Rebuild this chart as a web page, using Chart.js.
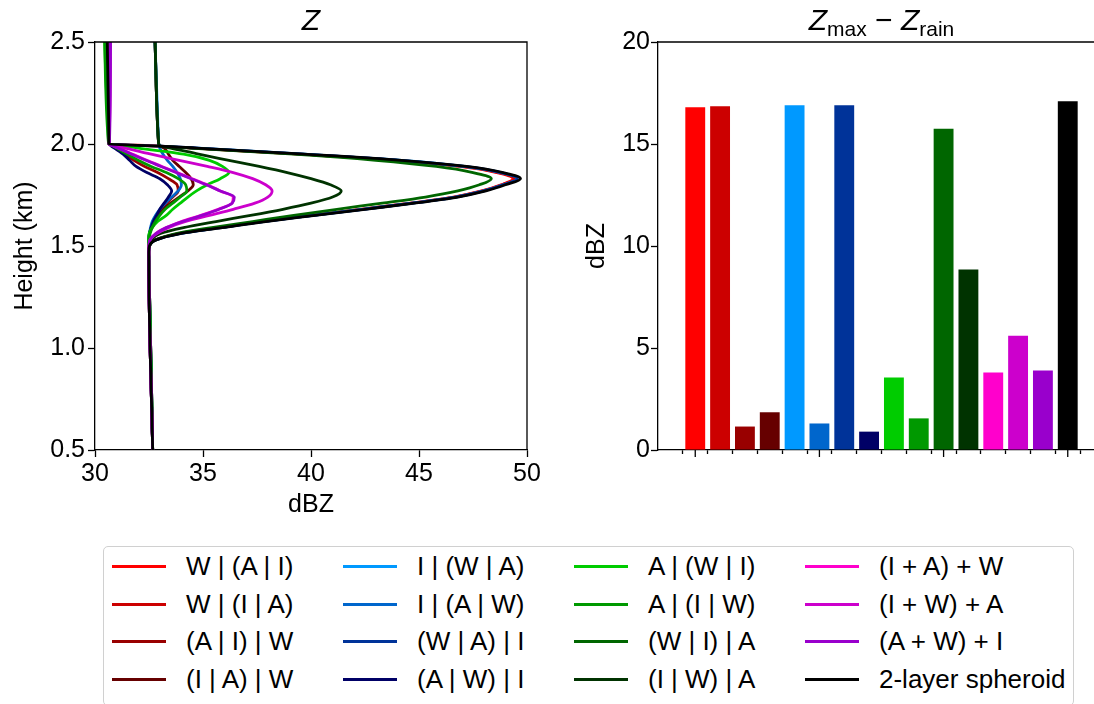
<!DOCTYPE html>
<html>
<head>
<meta charset="utf-8">
<script src="https://cdn.jsdelivr.net/npm/chart.js@4.4.0/dist/chart.umd.min.js"></script>
<style>
    body { margin: 0; width: 1094px; height: 704px; overflow: hidden; background: #fff; position: relative;
           font-family: "Liberation Sans", Arial, sans-serif; color: #000; }
    #profileBox { position: absolute; left: 0; top: 0; width: 560px; height: 520px; }
    #diffBox { position: absolute; left: 570px; top: 0; width: 540px; height: 520px; }
    .title { position: absolute; top: 2px; height: 36px; line-height: 36px; text-align: center; font-size: 30px; }
    .title i { font-style: italic; }
    .title sub { font-size: 21px; vertical-align: -6px; line-height: 0; }
    #legend { position: absolute; left: 103px; top: 546px; width: 971px; height: 160px;
              border: 1px solid #d0d0d0; border-radius: 5px; box-sizing: border-box; }
    .item { position: absolute; height: 30px; display: flex; align-items: center; font-size: 26px; white-space: nowrap; }
    .handle { width: 54px; height: 3px; margin-right: 20px; }
</style>
</head>
<body>
<div id="profileBox"><canvas id="profile" width="560" height="520"></canvas></div>
<div id="diffBox"><canvas id="diff" width="540" height="520"></canvas></div>
<div class="title" style="left:95px;width:432px;"><i>Z</i></div>
<div class="title" style="left:658px;width:447px;"><i>Z</i><sub>max</sub> &minus; <i>Z</i><sub>rain</sub></div>
<div id="legend"></div>
<script>
// heights (km) shared by all profiles
const heights = [2.5, 2.01, 2.0, 1.99, 1.98, 1.95, 1.92, 1.89, 1.86, 1.83, 1.80, 1.77,
                 1.74, 1.71, 1.68, 1.65, 1.62, 1.59, 1.56, 1.53, 1.50, 1.47, 1.44, 0.5];

const seriesNames = ['W | (A | I)', 'W | (I | A)', '(A | I) | W', '(I | A) | W',
                     'I | (W | A)', 'I | (A | W)', '(W | A) | I', '(A | W) | I',
                     'A | (W | I)', 'A | (I | W)', '(W | I) | A', '(I | W) | A',
                     '(I + A) + W', '(I + W) + A', '(A + W) + I', '2-layer spheroid'];
const seriesColors = ['#ff0000', '#cc0000', '#990000', '#660000',
                      '#0099ff', '#0066cc', '#003399', '#000066',
                      '#00cc00', '#009900', '#006600', '#003300',
                      '#ff00cc', '#cc00cc', '#9900cc', '#000000'];

// Z profiles (dBZ) at the heights above
const zWAI = [30.55, 30.64, 30.65, 33.0, 34.6, 39.5, 44.0, 46.9, 48.6, 49.35, 48.8, 47.9, 46.6, 44.6, 42.3, 40.0, 37.7, 35.7, 33.8, 32.8, 32.52, 32.49, 32.49, 32.67];
const zWIA = [32.78, 32.94, 32.95, 33.0, 34.6, 39.5, 44.0, 47.0, 48.7, 49.45, 48.85, 47.95, 46.65, 44.65, 42.35, 40.05, 37.75, 35.75, 33.8, 32.8, 32.52, 32.49, 32.49, 32.67];
const zAIW = [30.55, 30.64, 30.65, 30.8, 30.95, 31.4, 31.8, 32.3, 32.9, 33.4, 33.8, 33.85, 33.6, 33.3, 33.05, 32.85, 32.7, 32.6, 32.52, 32.49, 32.48, 32.48, 32.49, 32.67];
const zIAW = [32.78, 32.94, 32.95, 33.0, 33.2, 33.4, 33.6, 33.9, 34.2, 34.45, 34.55, 34.3, 33.9, 33.5, 33.15, 32.9, 32.72, 32.6, 32.52, 32.49, 32.48, 32.48, 32.49, 32.67];
const zIWA = [32.78, 32.94, 32.95, 33.05, 34.8, 39.7, 44.2, 47.1, 48.8, 49.55, 48.9, 48.0, 46.7, 44.7, 42.4, 40.1, 37.8, 35.8, 33.85, 32.82, 32.52, 32.49, 32.49, 32.67];
const zIAW2 = [32.78, 32.94, 32.95, 32.97, 33.0, 33.15, 33.35, 33.6, 33.8, 33.95, 34.0, 33.85, 33.55, 33.25, 33.0, 32.8, 32.65, 32.57, 32.52, 32.49, 32.48, 32.48, 32.49, 32.67];
const zWAI2 = [30.55, 30.64, 30.65, 33.0, 34.7, 39.6, 44.1, 47.1, 48.8, 49.55, 48.9, 48.0, 46.7, 44.7, 42.4, 40.1, 37.8, 35.8, 33.85, 32.82, 32.52, 32.49, 32.49, 32.67];
const zAWI = [30.55, 30.64, 30.65, 30.75, 30.9, 31.3, 31.6, 31.9, 32.4, 33.0, 33.35, 33.55, 33.4, 33.2, 33.0, 32.85, 32.7, 32.6, 32.52, 32.49, 32.48, 32.48, 32.49, 32.67];
const zAWI2 = [30.45, 30.62, 30.65, 31.4, 32.0, 34.1, 35.3, 35.9, 36.2, 35.8, 35.2, 34.7, 34.3, 33.95, 33.6, 33.3, 32.9, 32.65, 32.5, 32.48, 32.48, 32.48, 32.49, 32.67];
const zAIW2 = [30.45, 30.62, 30.65, 30.85, 31.0, 31.5, 32.0, 32.6, 33.3, 33.85, 34.2, 34.25, 33.95, 33.6, 33.25, 33.0, 32.8, 32.65, 32.55, 32.5, 32.48, 32.48, 32.49, 32.67];
const zWIA2 = [32.78, 32.94, 32.95, 33.0, 34.4, 39.2, 43.0, 45.8, 47.5, 48.35, 47.8, 46.8, 45.3, 43.3, 41.2, 39.2, 37.3, 35.4, 33.7, 32.8, 32.52, 32.49, 32.49, 32.67];
const zIWA2 = [32.78, 32.94, 32.95, 33.0, 33.5, 34.8, 36.2, 37.6, 38.9, 40.0, 40.9, 41.4, 41.0, 40.0, 38.7, 37.2, 35.6, 34.1, 33.0, 32.6, 32.5, 32.49, 32.49, 32.67];
const zIAplusW = [30.7, 30.66, 30.65, 30.85, 31.1, 31.75, 32.4, 33.1, 33.8, 34.5, 35.2, 35.8, 36.4, 36.35, 35.7, 34.9, 34.0, 33.3, 32.8, 32.55, 32.5, 32.49, 32.49, 32.67];
const zIWplusA = [30.7, 30.66, 30.65, 31.0, 31.4, 32.6, 33.9, 35.2, 36.4, 37.3, 37.9, 38.2, 38.0, 37.4, 36.4, 35.3, 34.2, 33.4, 32.85, 32.55, 32.5, 32.49, 32.49, 32.67];
const zAWplusI = [30.72, 30.67, 30.65, 30.85, 31.05, 31.7, 32.35, 33.05, 33.75, 34.45, 35.15, 35.8, 36.45, 36.35, 35.75, 34.95, 34.05, 33.3, 32.8, 32.55, 32.5, 32.49, 32.49, 32.67];
const zSpheroid = [30.57, 30.64, 30.65, 33.0, 34.7, 39.7, 44.2, 47.2, 48.9, 49.7, 49.0, 48.1, 46.8, 44.8, 42.5, 40.2, 37.9, 35.9, 33.9, 32.83, 32.52, 32.49, 32.49, 32.67];

const profiles = [zWAI, zWIA, zAIW, zIAW, zIWA, zIAW2, zWAI2, zAWI,
                  zAWI2, zAIW2, zWIA2, zIWA2, zIAplusW, zIWplusA, zAWplusI, zSpheroid];

// Zmax - Zrain (dBZ), same order
const zDiff = [16.8, 16.85, 1.15, 1.85, 16.9, 1.3, 16.9, 0.9, 3.55, 1.55, 15.75, 8.85, 3.8, 5.6, 3.9, 17.1];

// tick values
const dbzTicks = [30, 35, 40, 45, 50];
const heightTicks = [0.5, 1.0, 1.5, 2.0, 2.5];
const diffTicks = [0, 5, 10, 15, 20];

Chart.defaults.font.family = '"Liberation Sans", Arial, sans-serif';
Chart.defaults.font.size = 25;
Chart.defaults.color = '#000';

// spines on top / right
const framePlugin = {
    id: 'frame',
    afterDraw(chart) {
        const a = chart.chartArea;
        const ctx = chart.ctx;
        ctx.save();
        ctx.strokeStyle = '#000';
        ctx.lineWidth = 1.3;
        ctx.beginPath();
        ctx.moveTo(a.left, a.top);
        ctx.lineTo(a.right, a.top);
        ctx.lineTo(a.right, a.bottom);
        ctx.stroke();
        ctx.restore();
    }
};

// longer tick every 5 bars
const majorTickPlugin = {
    id: 'majorTicks',
    afterDraw(chart) {
        const sc = chart.scales.x;
        const ctx = chart.ctx;
        ctx.save();
        ctx.strokeStyle = '#000';
        ctx.lineWidth = 1.3;
        sc.ticks.forEach(t => {
            if (t.value % 5 === 0) {
                const px = sc.getPixelForValue(t.value);
                ctx.beginPath();
                ctx.moveTo(px, sc.top);
                ctx.lineTo(px, sc.top + 7);
                ctx.stroke();
            }
        });
        ctx.restore();
    }
};

function axisStyle(tickLength) {
    return {
        border: { display: true, color: '#000', width: 1.3 },
        grid: { drawOnChartArea: false, drawTicks: true, tickLength: tickLength, tickColor: '#000', tickWidth: 1.3 }
    };
}

//#region profile chart
// Chart.js paints the first dataset on top, so the order is reversed to keep the legend's last entry uppermost
const profileSets = profiles.map((z, i) => ({
    label: seriesNames[i],
    data: z.map((v, k) => ({ x: v, y: heights[k] })),
    borderColor: seriesColors[i],
    backgroundColor: seriesColors[i],
    borderWidth: 2.8,
    pointRadius: 0,
    fill: false,
    order: profiles.length - i,
    cubicInterpolationMode: 'monotone'
}));

new Chart(document.getElementById('profile'), {
    type: 'line',
    data: { datasets: profileSets },
    plugins: [framePlugin],
    options: {
        indexAxis: 'y',
        responsive: false,
        animation: false,
        layout: { padding: { top: 42, right: 33, left: 0, bottom: 0 } },
        plugins: { legend: { display: false }, tooltip: { enabled: false } },
        scales: {
            x: {
                type: 'linear', min: 30, max: 50, position: 'bottom',
                ...axisStyle(7),
                afterBuildTicks: s => { s.ticks = dbzTicks.map(v => ({ value: v })); },
                afterFit: s => { s.height = 70; },
                ticks: { padding: 2, maxRotation: 0 },
                title: { display: true, text: 'dBZ', padding: { top: 0, bottom: 0 } }
            },
            y: {
                type: 'linear', min: 0.5, max: 2.5, position: 'left',
                ...axisStyle(7),
                afterBuildTicks: s => { s.ticks = heightTicks.map(v => ({ value: v })); },
                afterFit: s => { s.width = 95; },
                ticks: { padding: 3, callback: v => v.toFixed(1) },
                title: { display: true, text: 'Height (km)', padding: { top: 10, bottom: 0 } }
            }
        }
    }
});
//#endregion

//#region Zmax - Zrain bars
new Chart(document.getElementById('diff'), {
    type: 'bar',
    data: {
        datasets: [{
            label: 'Zmax - Zrain',
            data: zDiff.map((v, i) => ({ x: i, y: v })),
            backgroundColor: seriesColors,
            borderWidth: 0,
            barPercentage: 0.8,
            categoryPercentage: 1
        }]
    },
    plugins: [framePlugin, majorTickPlugin],
    options: {
        responsive: false,
        animation: false,
        layout: { padding: { top: 42, right: 5, left: 0, bottom: 0 } },
        plugins: { legend: { display: false }, tooltip: { enabled: false } },
        scales: {
            x: {
                type: 'linear', min: -1.5, max: 16.5, offset: false,
                ...axisStyle(4),
                afterBuildTicks: s => { s.ticks = zDiff.map((v, i) => ({ value: i })); },
                afterFit: s => { s.height = 70; },
                ticks: { display: false }
            },
            y: {
                type: 'linear', min: 0, max: 20,
                ...axisStyle(7),
                afterBuildTicks: s => { s.ticks = diffTicks.map(v => ({ value: v })); },
                afterFit: s => { s.width = 88; },
                ticks: { padding: 1 },
                title: { display: true, text: 'dBZ', padding: { top: 12, bottom: 0 } }
            }
        }
    }
});
//#endregion

//#region legend (4 columns, filled column by column)
const legendBox = document.getElementById('legend');
seriesNames.forEach((name, i) => {
    const col = Math.floor(i / 4);
    const row = i % 4;
    const item = document.createElement('div');
    item.className = 'item';
    item.style.left = (8 + col * 231) + 'px';
    item.style.top = Math.round(4 + row * 37.5) + 'px';
    const handle = document.createElement('span');
    handle.className = 'handle';
    handle.style.background = seriesColors[i];
    const text = document.createElement('span');
    text.innerText = name;
    item.appendChild(handle);
    item.appendChild(text);
    legendBox.appendChild(item);
});
//#endregion
</script>
</body>
</html>
